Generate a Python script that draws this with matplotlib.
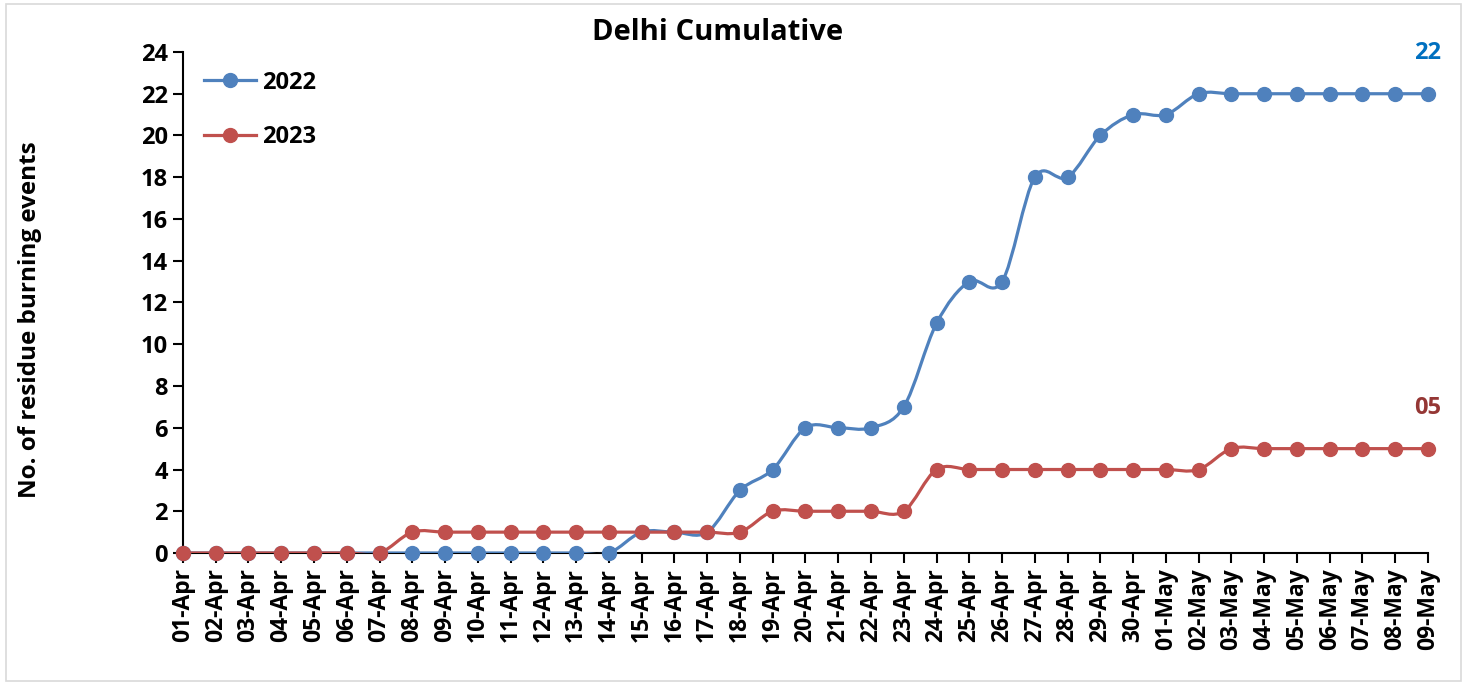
import matplotlib.pyplot as plt
from matplotlib.path import Path
from matplotlib.patches import PathPatch, Rectangle
from matplotlib.lines import Line2D
import numpy as np

plt.rcParams['font.family'] = ['Open Sans', 'DejaVu Sans']
plt.rcParams['font.weight'] = 'bold'

# Dates (01-Apr .. 09-May)
dates = ([f'{d:02d}-Apr' for d in range(1, 31)] +
         [f'{d:02d}-May' for d in range(1, 10)])

# Cumulative residue burning events
y2022 = [0, 0, 0, 0, 0, 0, 0, 0, 0, 0, 0, 0, 0, 0,
         1, 1, 1, 3, 4, 6, 6, 6, 7, 11, 13, 13, 18, 18, 20, 21,
         21, 22, 22, 22, 22, 22, 22, 22, 22]
y2023 = [0, 0, 0, 0, 0, 0, 0, 1, 1, 1, 1, 1, 1, 1,
         1, 1, 1, 1, 2, 2, 2, 2, 2, 4, 4, 4, 4, 4, 4, 4,
         4, 4, 5, 5, 5, 5, 5, 5, 5]

series = [('2022', y2022, '#4F81BD', '#0070C0'),
          ('2023', y2023, '#C0504D', '#953735')]


def smooth_path(x, y):
    """Excel-like smoothed line: Catmull-Rom segments as cubic beziers"""
    pts = np.column_stack([x, y]).astype(float)
    n = len(pts)
    verts = [pts[0]]
    codes = [Path.MOVETO]
    for i in range(n - 1):
        p0 = pts[i - 1] if i > 0 else pts[i]
        p1 = pts[i]
        p2 = pts[i + 1]
        p3 = pts[i + 2] if i + 2 < n else pts[i + 1]
        c1 = p1 + (p2 - p0) / 6.0
        c2 = p2 - (p3 - p1) / 6.0
        verts += [c1, c2, p2]
        codes += [Path.CURVE4] * 3
    return Path(verts, codes)


fig = plt.figure(figsize=(14.67, 6.84), dpi=100)
ax = fig.add_axes([0.1247, 0.1915, 0.8487, 0.7325])

x = np.arange(len(dates))
handles = []
for name, vals, color, label_color in series:
    patch = PathPatch(smooth_path(x, vals), facecolor='none', edgecolor=color,
                      lw=2.3, capstyle='round', joinstyle='round', zorder=3)
    ax.add_patch(patch)
    ax.plot(x, vals, linestyle='none', marker='o', markersize=10,
            color=color, zorder=4, clip_on=False)
    handles.append(Line2D([], [], color=color, lw=2.3, marker='o',
                          markersize=10, label=name))
    ax.annotate(f'{vals[-1]:02d}', xy=(x[-1], vals[-1]), xytext=(0, 29),
                textcoords='offset points', ha='center', va='center',
                fontsize=17, fontweight='bold', color=label_color)

ax.set_xlim(0, len(dates) - 1)
ax.set_ylim(0, 24)
ax.set_yticks(range(0, 25, 2))
ax.set_xticks(x)
ax.set_xticklabels(dates, rotation=90, fontsize=16.5, fontweight='bold')
ax.tick_params(axis='y', labelsize=17, direction='out', length=7, width=1.5, pad=4)
ax.tick_params(axis='x', direction='out', length=7, width=1.5, pad=4)
for lab in ax.get_yticklabels():
    lab.set_fontweight('bold')

for side in ['top', 'right']:
    ax.spines[side].set_visible(False)
for side in ['left', 'bottom']:
    ax.spines[side].set_linewidth(1.5)
ax.spines['bottom'].set_zorder(2)

ax.set_ylabel('No. of residue burning events', fontsize=17.5, fontweight='bold')
ax.yaxis.set_label_coords(-0.113, 0.465)
fig.text(0.489, 0.953, 'Delhi Cumulative', fontsize=21, fontweight='bold',
         ha='center', va='center')

ax.legend(handles=handles, loc='upper left', bbox_to_anchor=(0.0, 1.005),
          frameon=False, prop={'weight': 'bold', 'size': 17},
          handlelength=2.2, labelspacing=1.3, handletextpad=0.25)

# light frame around the whole chart
fig.patches.append(Rectangle((0.004, 0.004), 0.992, 0.99, transform=fig.transFigure,
                             fill=False, edgecolor='#D9D9D9', lw=1.2))

plt.savefig('out.png', dpi=100)
